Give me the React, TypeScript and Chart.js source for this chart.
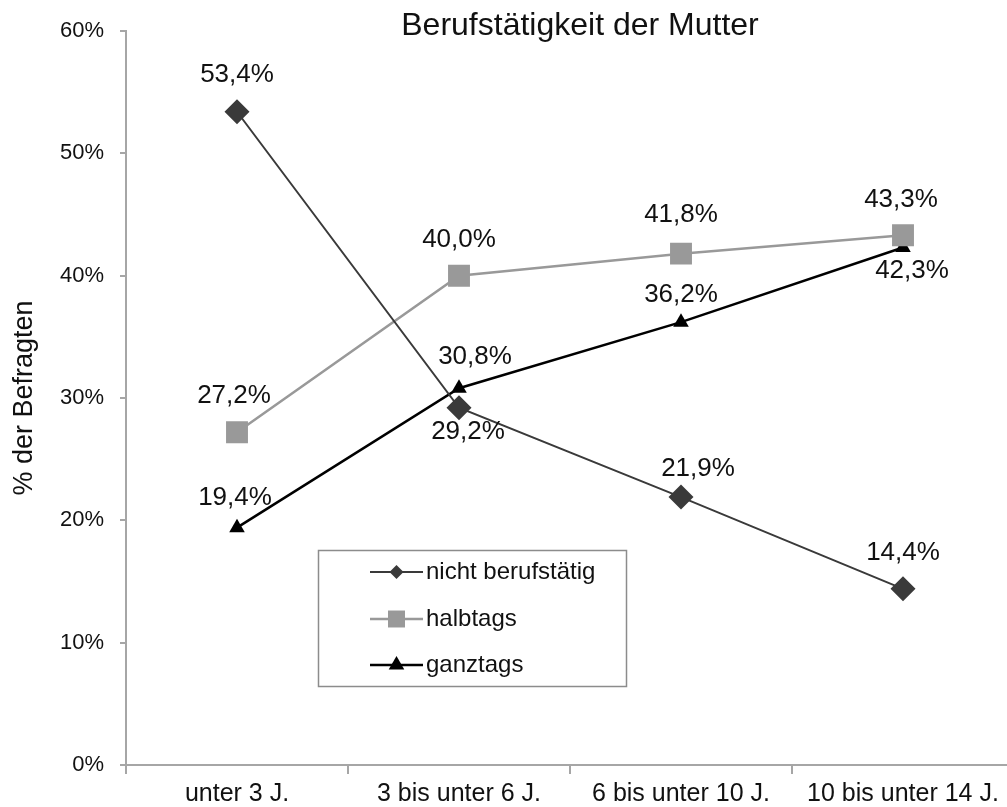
import React, { useEffect, useRef } from "react";
import { Chart, registerables } from "chart.js";

Chart.register(...registerables);

const categories = ["unter 3 J.", "3 bis unter 6 J.", "6 bis unter 10 J.", "10 bis unter 14 J."];
const nichtBerufstaetig = [53.4, 29.2, 21.9, 14.4];
const halbtags = [27.2, 40.0, 41.8, 43.3];
const ganztags = [19.4, 30.8, 36.2, 42.3];
const seriesNames = ["nicht berufstätig", "halbtags", "ganztags"];
const yMin = 0;
const yMax = 60;
const yStep = 10;
const chartTitle = "Berufstätigkeit der Mutter";
const yAxisTitle = "% der Befragten";

const FONT = '"Liberation Sans", Arial, sans-serif';
const fmt = (v: number) => v.toFixed(1).replace(".", ",") + "%";

// label offsets (style), per dataset per point: [dx, dy]
const labelOffsets = [
  [[0, -37], [9, 24], [17, -28], [0, -36]],
  [[-3, -36], [0, -36], [0, -39], [-2, -35]],
  [[-2, -30], [16, -31], [0, -27], [9, 23]],
];

const titlePlugin = {
  id: "customTitle",
  afterDraw(chart: any) {
    const ctx = chart.ctx;
    ctx.save();
    ctx.font = `32px ${FONT}`;
    ctx.fillStyle = "#111";
    ctx.textAlign = "center";
    ctx.textBaseline = "middle";
    ctx.fillText(chartTitle, 580, 26);
    ctx.restore();
  },
};

const pointLabelPlugin = {
  id: "pointLabels",
  afterDatasetsDraw(chart: any) {
    const ctx = chart.ctx;
    ctx.save();
    ctx.font = `26px ${FONT}`;
    ctx.fillStyle = "#111";
    ctx.textAlign = "center";
    ctx.textBaseline = "middle";
    chart.data.datasets.forEach((ds: any, di: number) => {
      const meta = chart.getDatasetMeta(di);
      meta.data.forEach((pt: any, i: number) => {
        const [dx, dy] = labelOffsets[di][i];
        ctx.fillText(fmt(ds.data[i]), pt.x + dx, pt.y + dy);
      });
    });
    ctx.restore();
  },
};

function drawMarker(ctx: CanvasRenderingContext2D, style: string, x: number, y: number, r: number, color: string) {
  ctx.fillStyle = color;
  ctx.beginPath();
  if (style === "rectRot") {
    ctx.moveTo(x - r, y);
    ctx.lineTo(x, y - r);
    ctx.lineTo(x + r, y);
    ctx.lineTo(x, y + r);
  } else if (style === "rect") {
    const h = r * Math.SQRT1_2;
    ctx.rect(x - h, y - h, 2 * h, 2 * h);
  } else {
    ctx.moveTo(x, y - r);
    ctx.lineTo(x + r * Math.sin((2 * Math.PI) / 3), y + r / 2);
    ctx.lineTo(x - r * Math.sin((2 * Math.PI) / 3), y + r / 2);
  }
  ctx.closePath();
  ctx.fill();
}

const legendPlugin = {
  id: "boxLegend",
  afterDraw(chart: any) {
    const ctx = chart.ctx;
    const bx = 318.5, by = 550.5, bw = 308, bh = 136;
    ctx.save();
    ctx.fillStyle = "#fff";
    ctx.fillRect(bx, by, bw, bh);
    ctx.strokeStyle = "#8c8c8c";
    ctx.lineWidth = 1.5;
    ctx.strokeRect(bx, by, bw, bh);
    const rows = [572, 619, 665];
    const legendR = [7, 12, 9];
    chart.data.datasets.forEach((ds: any, i: number) => {
      const y = rows[i];
      ctx.strokeStyle = ds.borderColor;
      ctx.lineWidth = ds.borderWidth;
      ctx.beginPath();
      ctx.moveTo(370, y);
      ctx.lineTo(423, y);
      ctx.stroke();
      drawMarker(ctx, ds.pointStyle, 396.5, y, legendR[i], ds.backgroundColor);
      ctx.font = `24px ${FONT}`;
      ctx.fillStyle = "#111";
      ctx.textAlign = "left";
      ctx.textBaseline = "middle";
      ctx.fillText(ds.label, 426, y);
    });
    ctx.restore();
  },
};

export default function App() {
  const canvasRef = useRef<HTMLCanvasElement | null>(null);

  useEffect(() => {
    if (!canvasRef.current) return;
    const chart = new Chart(canvasRef.current, {
      type: "line",
      data: {
        labels: categories,
        datasets: [
          {
            label: seriesNames[0],
            data: nichtBerufstaetig,
            borderColor: "#3a3a3a",
            backgroundColor: "#3a3a3a",
            borderWidth: 2,
            pointStyle: "rectRot",
            pointRadius: 12.5,
            pointBorderWidth: 0,
          },
          {
            label: seriesNames[1],
            data: halbtags,
            borderColor: "#999999",
            backgroundColor: "#999999",
            borderWidth: 2.5,
            pointStyle: "rect",
            pointRadius: 15.5,
            pointBorderWidth: 0,
          },
          {
            label: seriesNames[2],
            data: ganztags,
            borderColor: "#000000",
            backgroundColor: "#000000",
            borderWidth: 2.5,
            pointStyle: "triangle",
            pointRadius: 9,
            pointBorderWidth: 0,
          },
        ],
      },
      options: {
        animation: false,
        responsive: false,
        maintainAspectRatio: false,
        devicePixelRatio: 1,
        layout: { autoPadding: false, padding: { top: 31, right: 2, left: 0, bottom: 0 } },
        plugins: {
          legend: { display: false },
          tooltip: { enabled: false },
          title: { display: false },
        },
        scales: {
          x: {
            offset: true,
            grid: {
              display: true,
              offset: true,
              drawOnChartArea: false,
              drawTicks: true,
              tickLength: 9,
              color: "#a6a6a6",
              lineWidth: 2,
            },
            border: { display: true, color: "#a6a6a6", width: 2 },
            ticks: {
              color: "#111",
              font: { family: FONT, size: 25 },
              padding: 5,
              maxRotation: 0,
              autoSkip: false,
            },
            afterFit: (s: any) => {
              s.height = 42;
              s.paddingLeft = 0;
              s.paddingRight = 0;
            },
          },
          y: {
            min: yMin,
            max: yMax,
            grid: {
              display: true,
              drawOnChartArea: false,
              drawTicks: true,
              tickLength: 6,
              color: "#a6a6a6",
              lineWidth: 2,
            },
            border: { display: true, color: "#a6a6a6", width: 2 },
            ticks: {
              stepSize: yStep,
              color: "#111",
              font: { family: FONT, size: 22 },
              padding: 16,
              callback: (v: any) => v + "%",
            },
            title: {
              display: true,
              text: yAxisTitle,
              color: "#111",
              font: { family: FONT, size: 27 },
              padding: { top: 8, bottom: 0 },
            },
            afterFit: (s: any) => {
              s.width = 126;
              s.paddingTop = 0;
              s.paddingBottom = 0;
            },
          },
        },
      },
      plugins: [pointLabelPlugin, legendPlugin, titlePlugin],
    } as any);
    return () => chart.destroy();
  }, []);

  return (
    <div style={{ position: "fixed", left: 0, top: 0, width: 1016, height: 807, background: "#fff", overflow: "hidden" }}>
      <canvas ref={canvasRef} width={1016} height={807} style={{ display: "block", width: 1016, height: 807 }} />
    </div>
  );
}
